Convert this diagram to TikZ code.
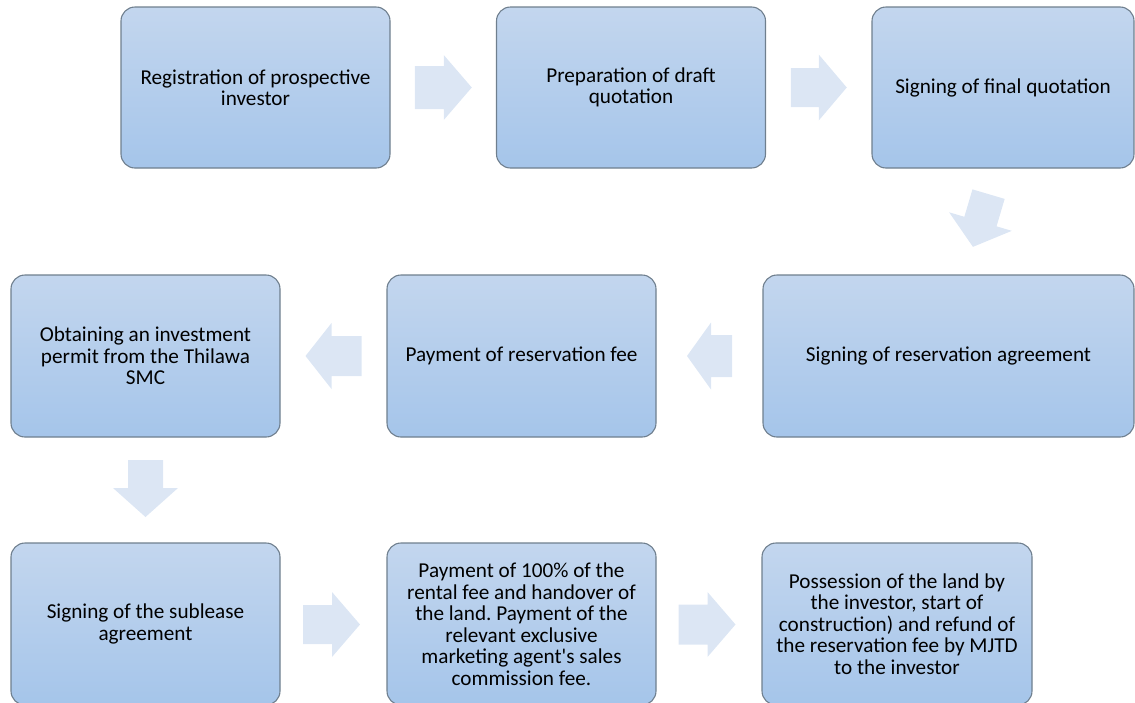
\documentclass[tikz,border=0pt]{standalone}
\usepackage{fontspec}
\setmainfont{Carlito}[Ligatures=TeXOff]
\usetikzlibrary{calc}
\frenchspacing
\definecolor{boxtop}{HTML}{C3D6EE}
\definecolor{boxbot}{HTML}{A5C5EA}
\definecolor{boxline}{HTML}{6F7F8E}
\definecolor{arrfill}{HTML}{DCE6F4}
\tikzset{
  stepbox/.style={rectangle, rounded corners=14pt, draw=boxline, line width=1.1pt,
    top color=boxtop, bottom color=boxbot, shading angle=0,
    align=center, font=\fontsize{21.2}{21.5}\selectfont, text=black, inner sep=0pt},
  pics/barrow/.style n args={4}{code={
    \fill[arrfill] (-#1/2,-#3) -- (#1/2-#4,-#3) -- (#1/2-#4,-#2) -- (#1/2,0)
      -- (#1/2-#4,#2) -- (#1/2-#4,#3) -- (-#1/2,#3) -- cycle;
  }}
}
\begin{document}
\begin{tikzpicture}[x=1pt,y=-1pt]
\useasboundingbox (0,0) rectangle (1135,702);
% row 1
\node[stepbox, minimum width=269pt, minimum height=161pt] (b1) at (255.5,87.5)
  {Registration of prospective\\investor};
\node[stepbox, minimum width=269pt, minimum height=161pt] (b2) at (631,87.5)
  {Preparation of draft\\quotation};
\node[stepbox, minimum width=262pt, minimum height=161pt] (b3) at (1003,87.5)
  {Signing of final quotation};
% row 2
\node[stepbox, minimum width=269pt, minimum height=162pt] (b4) at (145.5,356)
  {Obtaining an investment\\permit from the Thilawa\\SMC};
\node[stepbox, minimum width=269pt, minimum height=162pt] (b5) at (521.5,356)
  {Payment of reservation fee};
\node[stepbox, minimum width=371pt, minimum height=162pt] (b6) at (948.5,356)
  {Signing of reservation agreement};
% row 3
\node[stepbox, minimum width=269pt, minimum height=162pt] (b7) at (145.5,624)
  {Signing of the sublease\\agreement};
\node[stepbox, minimum width=269pt, minimum height=162pt] (b8) at (521.5,624)
  {Payment of 100\% of the\\rental fee and handover of\\the land. Payment of the\\relevant exclusive\\marketing agent's sales\\commission fee.};
\node[stepbox, minimum width=270pt, minimum height=162pt] (b9) at (897,624)
  {Possession of the land by\\the investor, start of\\construction) and refund of\\the reservation fee by MJTD\\to the investor};
% block arrows
\pic at ($(b1.east)!0.5!(b2.west)$) {barrow={57}{32.5}{21.5}{28}};
\pic at ($(b2.east)!0.5!(b3.west)$) {barrow={56}{33}{19.5}{28}};
\pic[rotate=-106.5] at ($(b3.south)!0.5!(b6.north)+(5,-1)$) {barrow={55}{32.7}{16.8}{26.4}};
\pic[rotate=180] at ($(b6.west)!0.5!(b5.east)$) {barrow={45}{33.5}{21}{24}};
\pic[rotate=180] at ($(b5.west)!0.5!(b4.east)$) {barrow={56}{33}{20}{26}};
\pic[rotate=-90] at ($(b4.south)!0.5!(b7.north)+(0,-1.5)$) {barrow={57}{32.5}{17.5}{29}};
\pic at ($(b7.east)!0.5!(b8.west)+(-2,0.5)$) {barrow={57}{32.5}{19.5}{28}};
\pic at ($(b8.east)!0.5!(b9.west)+(-2,0.5)$) {barrow={57}{32.5}{20}{28}};
\end{tikzpicture}
\end{document}
